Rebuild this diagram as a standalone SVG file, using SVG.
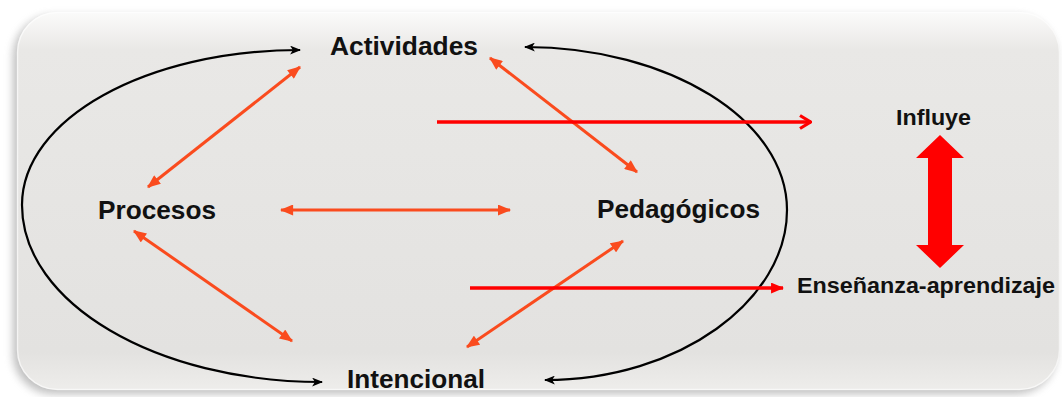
<svg xmlns="http://www.w3.org/2000/svg" width="1062" height="397" viewBox="0 0 1062 397">
<defs>
<linearGradient id="bg" x1="0" y1="0" x2="0" y2="1">
<stop offset="0" stop-color="#fbfbfa"/>
<stop offset="0.1" stop-color="#e9e8e6"/>
<stop offset="0.9" stop-color="#e3e2e0"/>
<stop offset="1" stop-color="#eeedeb"/>
</linearGradient>
<filter id="sh" x="-5%" y="-10%" width="110%" height="120%">
<feGaussianBlur stdDeviation="4"/>
</filter>
<marker id="blk" viewBox="0 0 10 8" refX="9" refY="4" markerWidth="11" markerHeight="9" markerUnits="userSpaceOnUse" orient="auto-start-reverse">
<path d="M0,0 L10,4 L0,8 L2.5,4 z" fill="#000"/>
</marker>
<marker id="org" viewBox="0 0 12 10" refX="11" refY="5" markerWidth="14" markerHeight="11" markerUnits="userSpaceOnUse" orient="auto-start-reverse">
<path d="M0,0 L12,5 L0,10 z" fill="#fa4b1e"/>
</marker>
<marker id="redopen" viewBox="0 0 14 16" refX="13" refY="8" markerWidth="14" markerHeight="16" markerUnits="userSpaceOnUse" orient="auto">
<path d="M2,1.5 L12.5,8 L2,14.5" fill="none" stroke="#ff0000" stroke-width="3.2" stroke-linejoin="miter"/>
</marker>
<marker id="redfill" viewBox="0 0 12 10" refX="11" refY="5" markerWidth="13" markerHeight="11" markerUnits="userSpaceOnUse" orient="auto">
<path d="M0,0 L12,5 L0,10 z" fill="#ff0000"/>
</marker>
<style>
.lbl{font-family:"Liberation Sans",Arial,sans-serif;font-weight:bold;fill:#111;}
.big{font-size:25px;}
.sm{font-size:22px;}
.loop{fill:none;stroke:#000;stroke-width:2.2;marker-end:url(#blk);}
.oa{fill:none;stroke:#fa4b1e;stroke-width:3;marker-start:url(#org);marker-end:url(#org);}
.ra{fill:none;stroke:#ff0000;stroke-width:3.5;}
</style>
</defs>
<rect width="1062" height="397" fill="#ffffff"/>
<rect x="13" y="16" width="1043" height="378" rx="40" fill="#8a8a8a" opacity="0.55" filter="url(#sh)"/>
<rect x="17" y="12" width="1043" height="378" rx="40" fill="url(#bg)"/>
<rect x="17.5" y="12.5" width="1042" height="377" rx="40" fill="none" stroke="#ffffff" stroke-opacity="0.6" stroke-width="1.5"/>

<g id="connectors">
<path class="loop" marker-start="url(#blk)" d="M300,50 C146,50 22,119 22,205 C22,303 156,382 322,382"/>
<path class="loop" d="M787,210 C787,120 669,47 525,47"/>
<path class="loop" d="M787,210 C787,300 680,380 545,380"/>
<line class="oa" x1="300" y1="67" x2="148" y2="187"/>
<line class="oa" x1="490" y1="58" x2="637" y2="172"/>
<line class="oa" x1="281" y1="210" x2="510" y2="210"/>
<line class="oa" x1="134" y1="231" x2="292" y2="341"/>
<line class="oa" x1="623" y1="241" x2="467" y2="347"/>
<line class="ra" x1="437" y1="122" x2="811" y2="122" marker-end="url(#redopen)"/>
<line class="ra" x1="470" y1="288" x2="783" y2="288" marker-end="url(#redfill)"/>
<polygon id="block-arrow" points="940,135 964,158 952,158 952,245 964,245 940,268 916,245 928,245 928,158 916,158" fill="#ff0000"/>
</g>

<g id="node-actividades"><text class="lbl big" x="330" y="55" textLength="148" lengthAdjust="spacingAndGlyphs">Actividades</text></g>
<g id="node-procesos"><text class="lbl big" x="98" y="219" textLength="118" lengthAdjust="spacingAndGlyphs">Procesos</text></g>
<g id="node-pedagogicos"><text class="lbl big" x="597" y="218" textLength="163" lengthAdjust="spacingAndGlyphs">Pedagógicos</text></g>
<g id="node-intencional"><text class="lbl big" x="347" y="388" textLength="138" lengthAdjust="spacingAndGlyphs">Intencional</text></g>
<g id="node-influye"><text class="lbl sm" x="896" y="125" textLength="75" lengthAdjust="spacingAndGlyphs">Influye</text></g>
<g id="node-ensenanza"><text class="lbl sm" x="797" y="293" textLength="258" lengthAdjust="spacingAndGlyphs">Enseñanza-aprendizaje</text></g>
</svg>
